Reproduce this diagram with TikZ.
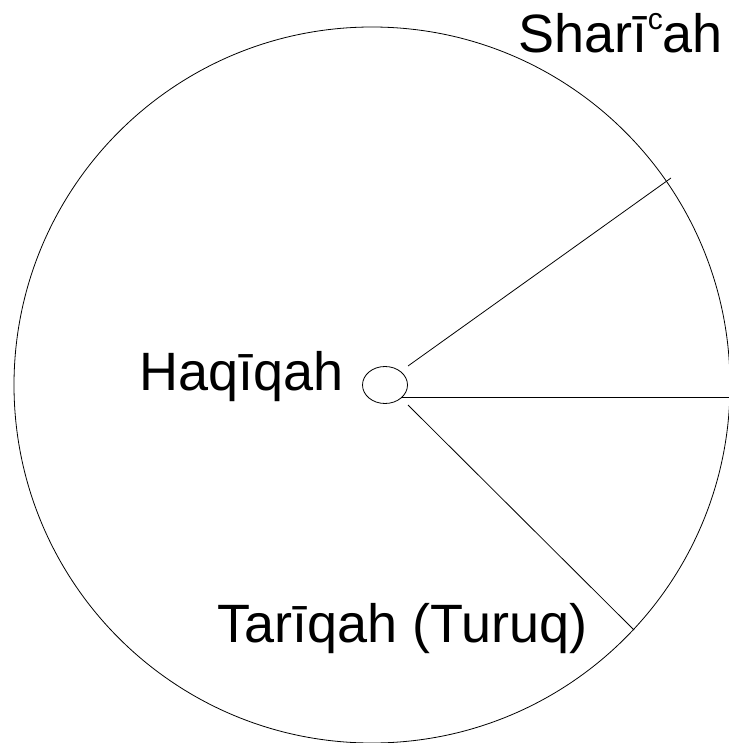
\documentclass[tikz,border=0pt]{standalone}
\usepackage{fontspec}
\setmainfont{Liberation Sans}
\usetikzlibrary{shapes.geometric}
\begin{document}
\begin{tikzpicture}[x=1pt,y=-1pt,
  lbl/.style={anchor=base west,inner sep=0pt,font=\fontsize{54}{60}\selectfont},
  thin line/.style={draw=black,line width=0.8pt}]
\useasboundingbox (0,0) rectangle (728,743);
\node[circle,thin line,minimum size=716pt,inner sep=0pt] (big) at (372,385) {};
\node[ellipse,thin line,minimum width=45pt,minimum height=37pt,inner sep=0pt] (hub) at (385,385) {};
\coordinate (u1) at (408,366);
\coordinate (u2) at (671,178);
\coordinate (m1) at (401,397);
\coordinate (m2) at (729,397);
\coordinate (l1) at (408,405);
\coordinate (l2) at (634,630);
\draw[thin line] (u1) -- (u2);
\draw[thin line] (m1) -- (m2);
\draw[thin line] (l1) -- (l2);
\node[lbl] (shariah) at (518,53) {Sharī\kern0.5pt\raisebox{23pt}{\fontsize{30}{30}\selectfont c}\kern-0.5pt ah};
\node[lbl] (haqiqah) at (139,390) {Haqīqah};
\node[lbl] (tariqah) at (217,642) {Tarīqah (Turuq)};
\end{tikzpicture}
\end{document}
